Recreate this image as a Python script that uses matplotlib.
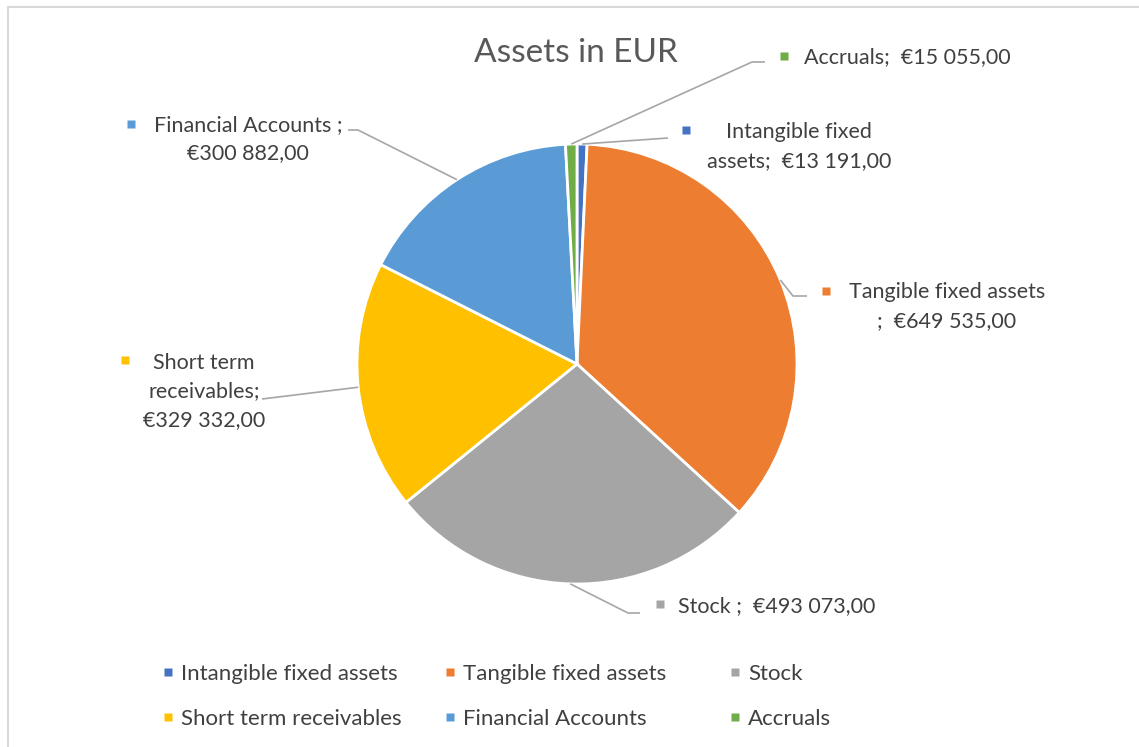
import numpy as np
import matplotlib
matplotlib.use("Agg")
import matplotlib.pyplot as plt
from matplotlib.lines import Line2D

plt.rcParams['font.family'] = ['Lato', 'DejaVu Sans']

# ---- data ----
categories = ["Intangible fixed assets", "Tangible fixed assets", "Stock",
              "Short term receivables", "Financial Accounts", "Accruals"]
values = [13191.00, 649535.00, 493073.00, 329332.00, 300882.00, 15055.00]
label_texts = ["Intangible fixed\nassets;  €13 191,00",
               "Tangible fixed assets\n;  €649 535,00",
               "Stock ;  €493 073,00",
               "Short term\nreceivables;\n€329 332,00",
               "Financial Accounts ;\n€300 882,00",
               "Accruals;  €15 055,00"]
colors = ["#4472C4", "#ED7D31", "#A5A5A5", "#FFC000", "#5B9BD5", "#70AD47"]
title = "Assets in EUR"

W, H = 1139, 747
CX, CY, R = 577, 364, 220   # pie centre / radius in pixels

fig = plt.figure(figsize=(W / 100, H / 100), dpi=100)
ax = fig.add_axes([0, 0, 1, 1])
wedges, _ = ax.pie(values, colors=colors, startangle=90, counterclock=False,
                   wedgeprops=dict(edgecolor="white", linewidth=2))
ax.set_xlim((0 - CX) / R, (W - CX) / R)
ax.set_ylim((CY - H) / R, CY / R)
ax.axis("off")

def d(px, py):
    return ((px - CX) / R, (CY - py) / R)

text_col = "#404040"
line_col = "#A6A6A6"
fs = 15.5

# layout for each data label: (elbow pixel, end pixel, marker pixel, text anchor pixel, ha)
layout = {
    0: (None, (668, 138), (686, 130), (799, 146.5), "center"),
    1: ((793, 296), (807, 296), (826, 291), (947, 306.5), "center"),
    2: ((628, 613), (640, 613), (660, 604), (678, 606), "left"),
    3: (None, (262, 399), (125, 360), (204, 391.5), "center"),
    4: ((358, 130), (348, 130), (131, 124), (248, 139), "center"),
    5: ((752, 62), (765, 62), (784, 56), (804, 57), "left"),
}

for i, w in enumerate(wedges):
    ang = np.deg2rad((w.theta1 + w.theta2) / 2)
    sx, sy = np.cos(ang), np.sin(ang)
    elbow, end, mk, tx, ha = layout[i]
    xs, ys = [sx], [sy]
    if elbow is not None:
        ex, ey = d(*elbow)
        xs.append(ex); ys.append(ey)
    ex, ey = d(*end)
    xs.append(ex); ys.append(ey)
    ax.plot(xs, ys, color=line_col, lw=1.2, solid_capstyle="butt")
    mx, my = d(*mk)
    ax.plot([mx], [my], marker="s", ms=6, color=colors[i], mec="none")
    txx, tyy = d(*tx)
    ax.text(txx, tyy, label_texts[i], ha=ha, va="center", fontsize=fs,
            color=text_col, multialignment="center", linespacing=1.52)

# title
tx, ty = d(575.5, 53)
ax.text(tx, ty, title, ha="center", va="center", fontsize=24, color="#595959")

# legend (row-major, 3 columns)
col_x = [168, 450, 735]
row_y = [672, 717]
for i, name in enumerate(categories):
    r, c = divmod(i, 3)
    mx, my = d(col_x[c], row_y[r])
    ax.plot([mx], [my], marker="s", ms=6, color=colors[i], mec="none")
    lx, ly = d(col_x[c] + 13, row_y[r] + 2)
    ax.text(lx, ly, name, ha="left", va="center", fontsize=16, color=text_col)

# chart frame (top and left edges visible)
fig.add_artist(Line2D([8 / W, 1], [1 - 7 / H, 1 - 7 / H], color="#D9D9D9", lw=1.5,
                      transform=fig.transFigure))
fig.add_artist(Line2D([8 / W, 8 / W], [0, 1 - 7 / H], color="#D9D9D9", lw=1.5,
                      transform=fig.transFigure))

fig.savefig("out.png", dpi=100, facecolor="white")
